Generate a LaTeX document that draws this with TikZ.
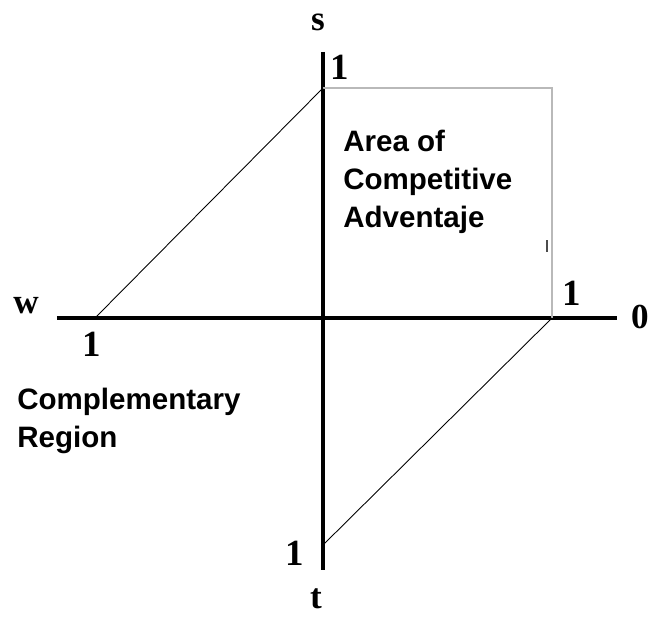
\documentclass[tikz,border=0pt]{standalone}
\usepackage{fontspec}
\setmainfont{Liberation Serif}
\newfontfamily\areafont{Liberation Sans}
\usepackage{tikz}
\usetikzlibrary{positioning}
\usetikzlibrary{calc}

\begin{document}
\begin{tikzpicture}[scale=1.0,
    axis/.style={line width=2.2pt},
    edge/.style={line width=0.5pt},
    unitnum/.style={inner sep=0pt,font=\fontsize{21}{21}\selectfont\bfseries},
    axlabel/.style={inner sep=0pt,font=\fontsize{20}{20}\selectfont\bfseries},
    region/.style={inner sep=0pt,align=left,anchor=north west,
      font=\areafont\fontsize{16.8}{21.5}\selectfont\bfseries}]
  \useasboundingbox (-6.46,-5.96) rectangle (6.54,6.36);
  % axes
  \coordinate (sTop) at (0,5.32); \coordinate (tBot) at (0,-5.04);
  \coordinate (wEnd) at (-5.32,0); \coordinate (oEnd) at (5.88,0);
  \draw[axis] (sTop) -- (tBot);
  \draw[axis] (wEnd) -- (oEnd);
  % unit points on the four axes
  \coordinate (s1) at (0,4.6); \coordinate (w1) at (-4.56,0);
  \coordinate (o1) at (4.58,0); \coordinate (t1) at (0,-4.54);
  \coordinate (corner) at (4.58,4.6);
  % square of the competitive area (grey)
  \draw[gray!55,line width=0.7pt] (s1) -- (corner) -- (o1);
  \draw[black!70,line width=0.6pt] (4.48,1.56) -- (4.48,1.32);
  % diagonals
  \draw[edge] (w1) -- (s1);
  \draw[edge] (o1) -- (t1);
  % axis names
  \node[axlabel] (sLab) at (-0.1,5.92) {s};
  \node[axlabel] (wLab) at (-5.94,0.24) {w};
  \node[axlabel] (oLab) at (6.34,0.02) {0};
  \node[axlabel] (tLab) at (-0.14,-5.62) {t};
  % unit labels
  \node[unitnum] (sOne) at (0.34,5.02) {1};
  \node[unitnum] (wOne) at (-4.62,-0.52) {1};
  \node[unitnum] (oOne) at (4.98,0.5) {1};
  \node[unitnum] (tOne) at (-0.56,-4.7) {1};
  % region texts
  \node[region] (area) at (0.4,3.76) {Area of\\Competitive\\Adventaje};
  \node[region] (compl) at (-6.12,-1.4) {Complementary\\Region};
\end{tikzpicture}
\end{document}
